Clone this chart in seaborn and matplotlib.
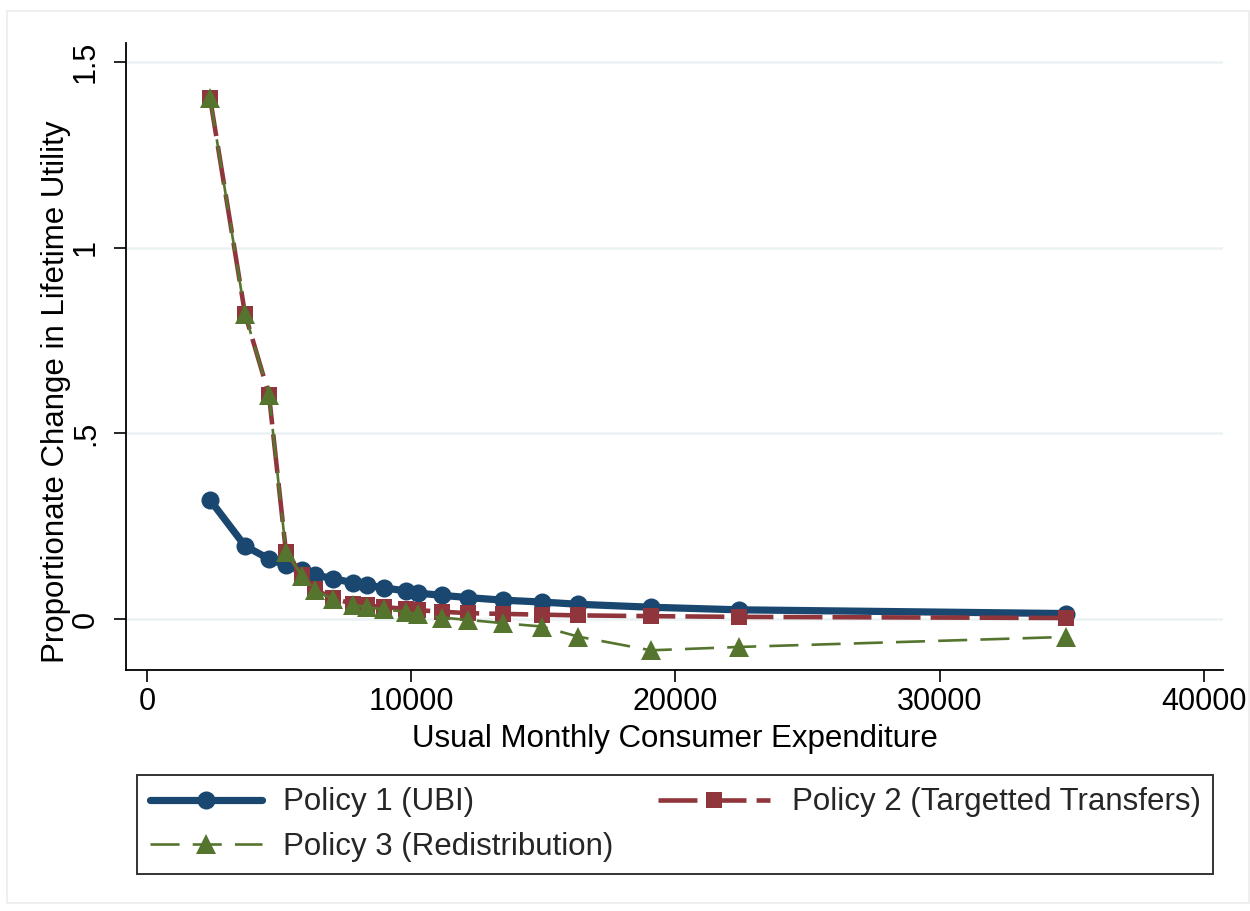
import matplotlib
matplotlib.use("Agg")
import matplotlib.pyplot as plt
import seaborn as sns
import numpy as np
import pandas as pd
from matplotlib.patches import Rectangle

# ---- data ----
expenditure = [2384, 3708, 4616, 5259, 5865, 6356, 7037, 7794, 8324, 8967,
               9800, 10254, 11162, 12145, 13470, 14945, 16307, 19069, 22399, 34771]
policy1 = [0.321, 0.197, 0.162, 0.145, 0.131, 0.119, 0.109, 0.098, 0.092, 0.084,
           0.076, 0.070, 0.064, 0.058, 0.051, 0.046, 0.040, 0.032, 0.025, 0.015]
policy2 = [1.404, 0.822, 0.604, 0.180, 0.120, 0.080, 0.056, 0.041, 0.037, 0.032,
           0.028, 0.024, 0.020, 0.016, 0.014, 0.012, 0.010, 0.008, 0.006, 0.003]
policy3 = [1.404, 0.822, 0.604, 0.180, 0.117, 0.078, 0.054, 0.038, 0.032, 0.026,
           0.020, 0.013, 0.004, -0.002, -0.011, -0.020, -0.047, -0.084, -0.075, -0.048]
labels = ["Policy 1 (UBI)", "Policy 2 (Targetted Transfers)", "Policy 3 (Redistribution)"]
xticks = [0, 10000, 20000, 30000, 40000]
xticklabels = ["0", "10000", "20000", "30000", "40000"]
yticks = [0, 0.5, 1.0, 1.5]
yticklabels = ["0", ".5", "1", "1.5"]

df = pd.DataFrame({"x": expenditure, "p1": policy1, "p2": policy2, "p3": policy3})

sns.set_theme(style="white")
plt.rcParams["font.family"] = ["Liberation Sans", "DejaVu Sans"]

navy = "#1a476f"
maroon = "#90353b"
green = "#55752f"
grid_c = "#eaf2f3"
FS = 22.5
TFS = 22

fig = plt.figure(figsize=(12.5, 9.11), dpi=100)
fig.patch.set_facecolor("white")
ax = fig.add_axes([126 / 1250, 1 - 670 / 911, (1223 - 126) / 1250, (670 - 43) / 911])

sns.lineplot(data=df, x="x", y="p1", ax=ax, color=navy, linewidth=5.2,
             marker="o", markersize=13, markeredgewidth=0, label=labels[0],
             zorder=3, sort=False)
sns.lineplot(data=df, x="x", y="p2", ax=ax, color=maroon, linewidth=3.3,
             marker="s", markersize=12, markeredgewidth=0, label=labels[1],
             zorder=4, sort=False)
sns.lineplot(data=df, x="x", y="p3", ax=ax, color=green, linewidth=1.9,
             marker="^", markersize=14, markeredgewidth=0, label=labels[2],
             zorder=5, sort=False)
lines = ax.get_lines()
lines[1].set_dashes([8.5, 2.2])
lines[2].set_dashes([11, 5])

ax.set_xlim(-795, 40720)
ax.set_ylim(-0.137, 1.551)
ax.set_xticks(xticks)
ax.set_xticklabels(xticklabels)
ax.set_yticks(yticks)
ax.set_yticklabels(yticklabels, rotation=90, va="center")
for y in yticks:
    ax.axhline(y, color=grid_c, linewidth=1.8, zorder=1)

for s in ["top", "right"]:
    ax.spines[s].set_visible(False)
for s in ["left", "bottom"]:
    ax.spines[s].set_color("black")
    ax.spines[s].set_linewidth(1.3)
ax.tick_params(axis="both", which="major", direction="out", length=8.5, width=1.2,
               color="black", labelsize=TFS, labelcolor="black",
               bottom=True, left=True)
ax.tick_params(axis="x", pad=4)
ax.tick_params(axis="y", pad=9.5)
ax.set_xlabel("Usual Monthly Consumer Expenditure", fontsize=FS, color="black", labelpad=5)
ax.set_ylabel("Proportionate Change in Lifetime Utility", fontsize=FS, color="black")
ax.yaxis.set_label_coords((71 - 126) / 1097, (670 - 392) / 627)

ax.get_legend().remove()
h = ax.get_lines()
handles = [h[0], h[2], h[1]]
leg_labels = [labels[0], labels[2], labels[1]]
leg = fig.legend(handles, leg_labels, ncol=2, loc="center",
                 bbox_to_anchor=(137 / 1250, 1 - 876 / 911, (1213 - 137) / 1250, (876 - 773) / 911),
                 mode="expand", fontsize=FS, frameon=True, fancybox=False,
                 handlelength=3.6, handletextpad=0.68, columnspacing=1.0,
                 labelspacing=0.45, borderpad=0.4, borderaxespad=0)
leg.get_frame().set_edgecolor("black")
leg.get_frame().set_linewidth(1.4)

fig.patches.append(Rectangle((7 / 1250, 1 - 903 / 911), (1249 - 7) / 1250, (903 - 11) / 911,
                             transform=fig.transFigure, fill=False,
                             edgecolor="#ececec", linewidth=1.2, zorder=0))

fig.savefig("out.png", dpi=100, facecolor="white")
